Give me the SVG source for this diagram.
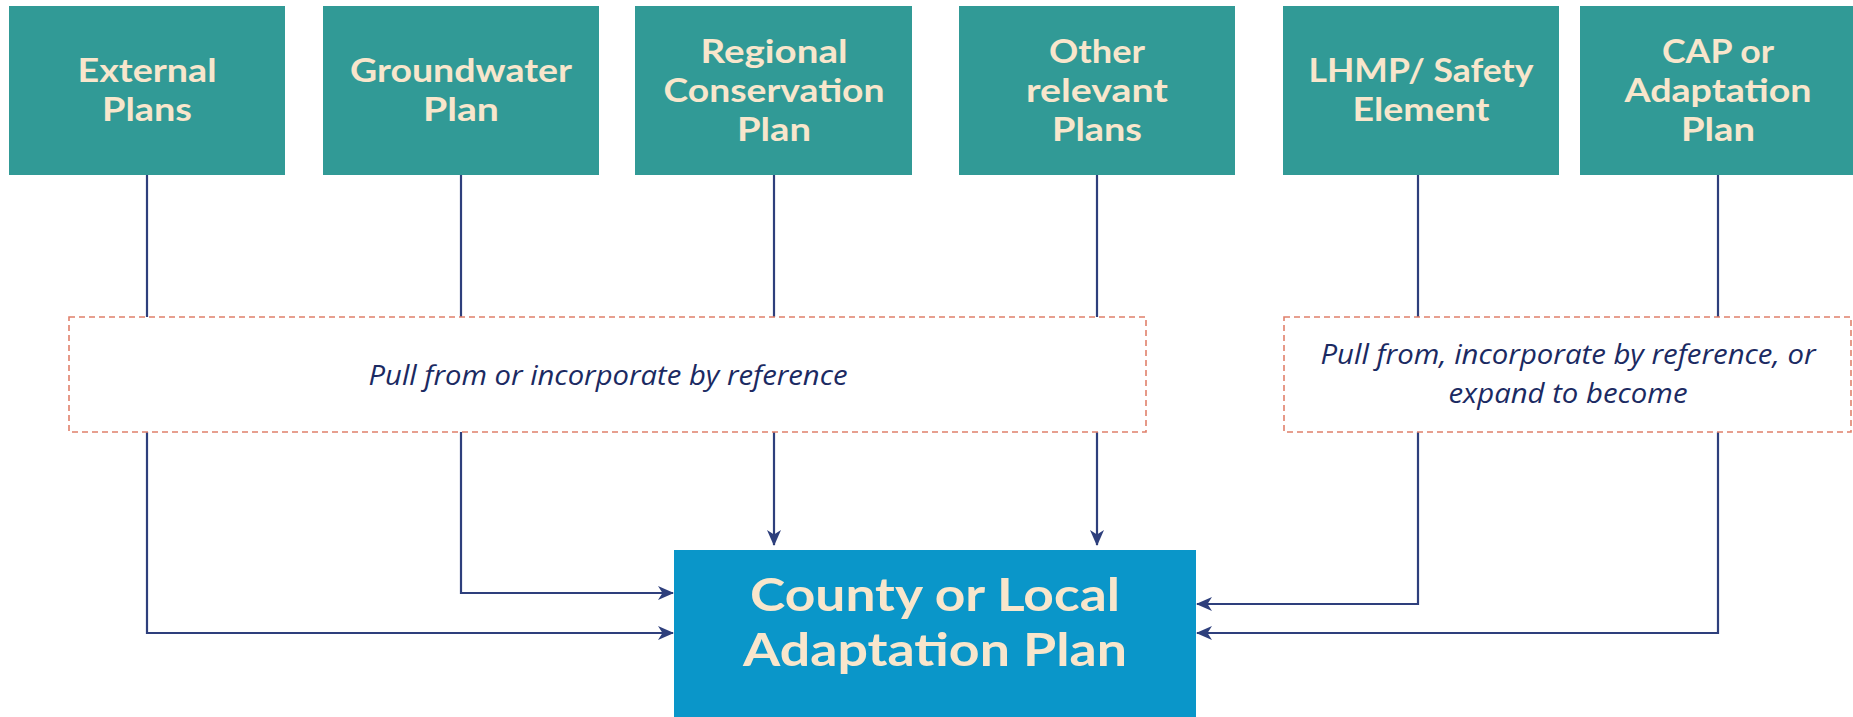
<svg xmlns="http://www.w3.org/2000/svg" width="1853" height="717" viewBox="0 0 1853 717">
<style>
.src{fill:#319A96}
.st{font-family:Lato,"Open Sans",sans-serif;font-weight:700;font-size:32px;fill:#F8E6CC;text-anchor:middle}
.dash{fill:#FFFFFF;stroke:#E0806B;stroke-width:1.6;stroke-dasharray:6 4}
.lbl{font-family:"Open Sans","Noto Sans",sans-serif;font-style:italic;font-weight:400;font-size:27px;fill:#1B2A62;text-anchor:middle}
.tgt{fill:#0A96C9}
.tt{font-family:Lato,"Open Sans",sans-serif;font-weight:700;font-size:45px;fill:#F8E6CC;text-anchor:middle}
.c{fill:none;stroke:#2E3F7C;stroke-width:2.2}
</style>
<defs>
<marker id="ah" viewBox="0 0 16 14" refX="15" refY="7" markerWidth="16" markerHeight="14" markerUnits="userSpaceOnUse" orient="auto">
<path d="M0,0 L16,7 L0,14 L4.5,7 z" fill="#2E3F7C"/>
</marker>
</defs>
<rect width="1853" height="717" fill="#FFFFFF"/>

<g id="connectors">
<line class="c" x1="147" y1="175" x2="147" y2="317"/>
<line class="c" x1="461" y1="175" x2="461" y2="317"/>
<line class="c" x1="774" y1="175" x2="774" y2="317"/>
<line class="c" x1="1097" y1="175" x2="1097" y2="317"/>
<line class="c" x1="1418" y1="175" x2="1418" y2="317"/>
<line class="c" x1="1718" y1="175" x2="1718" y2="317"/>
<polyline class="c" points="147,432 147,633 673,633" marker-end="url(#ah)"/>
<polyline class="c" points="461,432 461,593 673,593" marker-end="url(#ah)"/>
<polyline class="c" points="774,432 774,545" marker-end="url(#ah)"/>
<polyline class="c" points="1097,432 1097,545" marker-end="url(#ah)"/>
<polyline class="c" points="1418,432 1418,604 1197,604" marker-end="url(#ah)"/>
<polyline class="c" points="1718,432 1718,633 1197,633" marker-end="url(#ah)"/>
</g>

<g id="external-plans">
<rect class="src" x="9" y="6" width="276" height="169"/>
<text class="st" x="147" y="82" textLength="139" lengthAdjust="spacingAndGlyphs">External</text>
<text class="st" x="147" y="121" textLength="90" lengthAdjust="spacingAndGlyphs">Plans</text>
</g>
<g id="groundwater-plan">
<rect class="src" x="323" y="6" width="276" height="169"/>
<text class="st" x="461" y="82" textLength="222" lengthAdjust="spacingAndGlyphs">Groundwater</text>
<text class="st" x="461" y="121" textLength="76" lengthAdjust="spacingAndGlyphs">Plan</text>
</g>
<g id="regional-conservation-plan">
<rect class="src" x="635" y="6" width="277" height="169"/>
<text class="st" x="774" y="63" textLength="147" lengthAdjust="spacingAndGlyphs">Regional</text>
<text class="st" x="774" y="102" textLength="221" lengthAdjust="spacingAndGlyphs">Conservation</text>
<text class="st" x="774" y="141" textLength="74" lengthAdjust="spacingAndGlyphs">Plan</text>
</g>
<g id="other-relevant-plans">
<rect class="src" x="959" y="6" width="276" height="169"/>
<text class="st" x="1097" y="63" textLength="96" lengthAdjust="spacingAndGlyphs">Other</text>
<text class="st" x="1097" y="102" textLength="142" lengthAdjust="spacingAndGlyphs">relevant</text>
<text class="st" x="1097" y="141" textLength="90" lengthAdjust="spacingAndGlyphs">Plans</text>
</g>
<g id="lhmp-safety-element">
<rect class="src" x="1283" y="6" width="276" height="169"/>
<text class="st" x="1421" y="82" textLength="225" lengthAdjust="spacingAndGlyphs">LHMP/ Safety</text>
<text class="st" x="1421" y="121" textLength="137" lengthAdjust="spacingAndGlyphs">Element</text>
</g>
<g id="cap-adaptation-plan">
<rect class="src" x="1580" y="6" width="273" height="169"/>
<text class="st" x="1718" y="63" textLength="112" lengthAdjust="spacingAndGlyphs">CAP or</text>
<text class="st" x="1718" y="102" textLength="187" lengthAdjust="spacingAndGlyphs">Adaptation</text>
<text class="st" x="1718" y="141" textLength="74" lengthAdjust="spacingAndGlyphs">Plan</text>
</g>

<g id="pull-from-left">
<rect class="dash" x="69" y="317" width="1077" height="115"/>
<text class="lbl" x="608" y="385" textLength="479" lengthAdjust="spacingAndGlyphs">Pull from or incorporate by reference</text>
</g>
<g id="pull-from-right">
<rect class="dash" x="1284" y="317" width="567" height="115"/>
<text class="lbl" x="1568" y="364" textLength="495" lengthAdjust="spacingAndGlyphs">Pull from, incorporate by reference, or</text>
<text class="lbl" x="1568" y="403" textLength="239" lengthAdjust="spacingAndGlyphs">expand to become</text>
</g>

<g id="county-local-adaptation-plan">
<rect class="tgt" x="674" y="550" width="522" height="167"/>
<text class="tt" x="935" y="611" textLength="370" lengthAdjust="spacingAndGlyphs">County or Local</text>
<text class="tt" x="935" y="666" textLength="384" lengthAdjust="spacingAndGlyphs">Adaptation Plan</text>
</g>
</svg>
